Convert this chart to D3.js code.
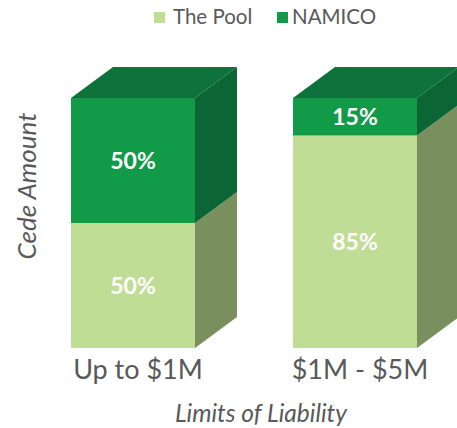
<!DOCTYPE html>
<html>
<head>
<meta charset="utf-8">
<script src="https://cdn.jsdelivr.net/npm/d3@7"></script>
<style>
  body { margin: 0; background: #fff; }
  text { font-family: Lato, "Open Sans", sans-serif; }
</style>
</head>
<body>
<svg id="chart"></svg>
<script>
const categories = ["Up to $1M", "$1M - $5M"];
const seriesNames = ["The Pool", "NAMICO"];
const poolShare = [50, 85];
const namicoShare = [50, 15];

const width = 457;
const height = 428;
const depthX = 42;
const depthY = 31;

const colors = {
  "The Pool": { front: "#bfdd95", side: "#7a8f5e", top: "#a9c884" },
  "NAMICO": { front: "#119a48", side: "#0b6534", top: "#0e733a" }
};

const rows = categories.map((c, i) => ({ cat: c, "The Pool": poolShare[i], "NAMICO": namicoShare[i] }));
const stacked = d3.stack().keys(seriesNames)(rows);

const svg = d3.select("#chart")
  .attr("width", width)
  .attr("height", height);

const x = d3.scaleBand()
  .domain(categories)
  .range([71, 417])
  .paddingInner(0.4414)
  .paddingOuter(0);

const y = d3.scaleLinear()
  .domain([0, 100])
  .range([348, 98]);

// faces of each stacked segment
const segs = stacked.flatMap((layer, li) => layer.map(d => ({
  key: layer.key,
  cat: d.data.cat,
  y0: d[0],
  y1: d[1],
  isTop: li === stacked.length - 1
})));

const g = svg.append("g");

// side faces
g.selectAll("path.side")
  .data(segs)
  .join("path")
  .attr("class", "side")
  .attr("fill", d => colors[d.key].side)
  .attr("d", d => {
    const xr = x(d.cat) + x.bandwidth();
    const yb = y(d.y0), yt = y(d.y1);
    return `M${xr},${yb}L${xr + depthX},${yb - depthY}L${xr + depthX},${yt - depthY}L${xr},${yt}Z`;
  });

// top faces
g.selectAll("path.top")
  .data(segs.filter(d => d.isTop))
  .join("path")
  .attr("class", "top")
  .attr("fill", d => colors[d.key].top)
  .attr("d", d => {
    const xl = x(d.cat), xr = xl + x.bandwidth();
    const yt = y(d.y1);
    return `M${xl},${yt}L${xl + depthX},${yt - depthY}L${xr + depthX},${yt - depthY}L${xr},${yt}Z`;
  });

// front faces
g.selectAll("rect.front")
  .data(segs)
  .join("rect")
  .attr("class", "front")
  .attr("x", d => x(d.cat))
  .attr("width", x.bandwidth())
  .attr("y", d => y(d.y1))
  .attr("height", d => y(d.y0) - y(d.y1))
  .attr("fill", d => colors[d.key].front);

// value labels
g.selectAll("text.val")
  .data(segs)
  .join("text")
  .attr("class", "val")
  .attr("x", d => x(d.cat) + x.bandwidth() / 2)
  .attr("y", d => (y(d.y0) + y(d.y1)) / 2)
  .attr("dy", "0.36em")
  .attr("text-anchor", "middle")
  .attr("fill", "#fff")
  .attr("font-weight", "bold")
  .attr("font-size", 23)
  .text(d => `${d.y1 - d.y0}%`);

// category labels
svg.selectAll("text.cat")
  .data(categories)
  .join("text")
  .attr("class", "cat")
  .attr("x", d => x(d) + x.bandwidth() / 2 + 5)
  .attr("y", 379)
  .attr("text-anchor", "middle")
  .attr("fill", "#595959")
  .attr("font-size", 27)
  .text(d => d);

// axis titles
svg.append("text")
  .attr("x", 261)
  .attr("y", 422)
  .attr("text-anchor", "middle")
  .attr("fill", "#595959")
  .attr("font-style", "italic")
  .attr("font-size", 24.5)
  .text("Limits of Liability");

svg.append("text")
  .attr("transform", "translate(36,186) rotate(-90)")
  .attr("text-anchor", "middle")
  .attr("fill", "#595959")
  .attr("font-style", "italic")
  .attr("font-size", 26)
  .text("Cede Amount");

// legend
const legendX = [154, 277];
const legend = svg.selectAll("g.legend")
  .data(seriesNames)
  .join("g")
  .attr("class", "legend")
  .attr("transform", (d, i) => `translate(${legendX[i]},12)`);

legend.append("rect")
  .attr("width", 11)
  .attr("height", 11)
  .attr("fill", d => colors[d].front);

legend.append("text")
  .attr("x", d => d === "NAMICO" ? 15 : 19)
  .attr("y", 12)
  .attr("fill", "#595959")
  .attr("font-size", 20.5)
  .text(d => d);
</script>
</body>
</html>
